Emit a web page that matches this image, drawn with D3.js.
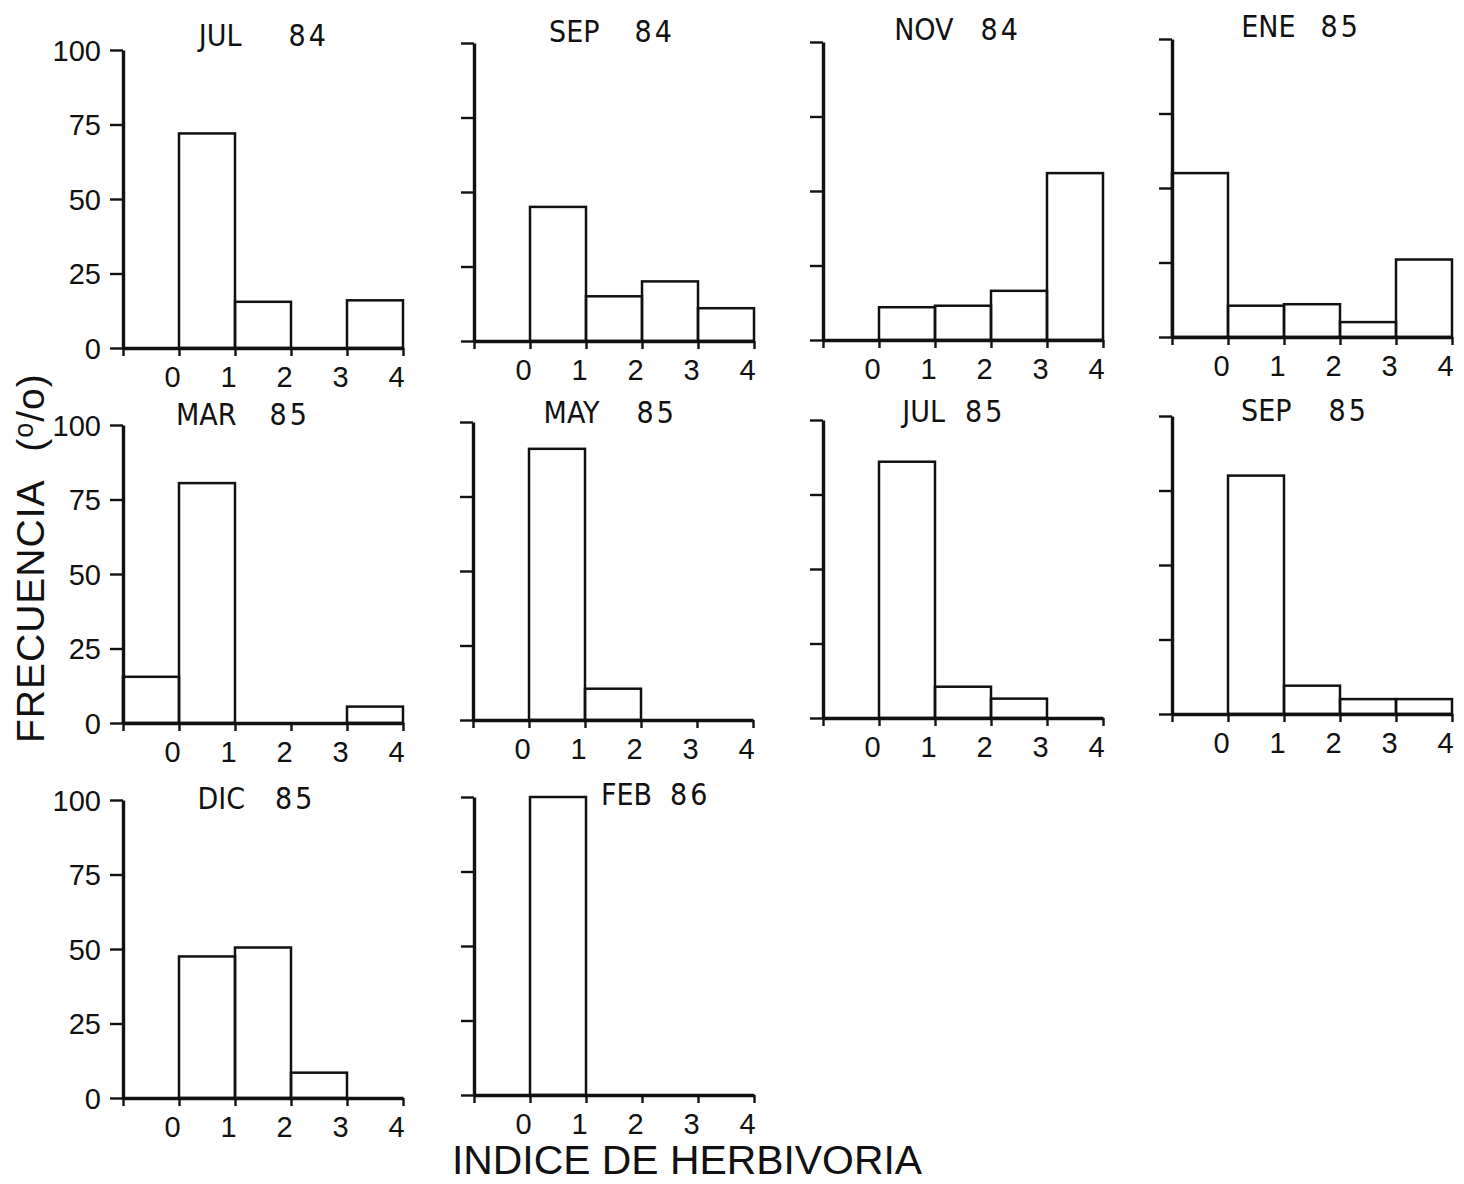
<!DOCTYPE html>
<html>
<head>
<meta charset="utf-8">
<script src="https://cdn.jsdelivr.net/npm/d3@7/dist/d3.min.js"></script>
<style>
  html, body { margin: 0; padding: 0; background: #ffffff; }
  svg { display: block; }
  .tick text { font-family: "Liberation Sans", Arial, sans-serif; fill: #111; }
</style>
</head>
<body>
<script>
// Herbivory index frequency distributions, one histogram per sampling date.
const titles = ["JUL 84", "SEP 84", "NOV 84", "ENE 85", "MAR 85",
                "MAY 85", "JUL 85", "SEP 85", "DIC 85", "FEB 86"];

// Left edge of each class of the herbivory index (class width = 1).
const binStarts = [-1, 0, 1, 2, 3];

// Frequency (%) in each class, per sampling date.
const jul84 = [0, 72, 15.5, 0, 16];
const sep84 = [0, 45, 15, 20, 11];
const nov84 = [0, 11, 11.5, 16.5, 56];
const ene85 = [55, 10.5, 11, 5, 26];
const mar85 = [15.5, 80.5, 0, 0, 5.5];
const may85 = [0, 91, 10.5, 0, 0];
const jul85 = [0, 86, 10.5, 6.5, 0];
const sep85 = [0, 80, 9.5, 5, 5];
const dic85 = [0, 47.5, 50.5, 8.5, 0];
const feb86 = [0, 100, 0, 0, 0];
const series = [jul84, sep84, nov84, ene85, mar85, may85, jul85, sep85, dic85, feb86];

const xTickValues = [-1, 0, 1, 2, 3, 4];
const xTickLabels = ["", "0", "1", "2", "3", "4"];
const yTickValues = [0, 25, 50, 75, 100];
const yTickLabels = ["0", "25", "50", "75", "100"];

const yAxisTitle = "FRECUENCIA";
const xAxisTitle = "INDICE DE HERBIVORIA";

// ---- layout ----
const WIDTH = 1464, HEIGHT = 1184;
const PW = 280, PH = 298;
// top-left corner (left axis x, y of 100 %) of each panel
const panelOrigin = [
  [123, 50], [474, 43], [823, 42], [1172, 39],
  [123, 425], [473, 422], [823, 420], [1172, 416],
  [123, 800], [474, 797]
];
// title centre x, baseline y, gap between month and year
const titlePos = [
  [265, 46, 47], [617, 42, 35], [967, 40, 27], [1308, 37, 25],
  [253, 425, 33], [618, 423, 37], [955, 422, 20], [1310, 421, 37],
  [260, 809, 30], [661, 805, 18]
];

const svg = d3.select("body").append("svg")
  .attr("width", WIDTH).attr("height", HEIGHT)
  .attr("viewBox", `0 0 ${WIDTH} ${HEIGHT}`);

svg.append("rect").attr("width", WIDTH).attr("height", HEIGHT).attr("fill", "#fff");

const x = d3.scaleLinear().domain([-1, 4]).range([0, PW]);
const y = d3.scaleLinear().domain([0, 100]).range([PH, 0]);

series.forEach((vals, i) => {
  const [ox, oy] = panelOrigin[i];
  const col = i % 4;
  const g = svg.append("g").attr("transform", `translate(${ox},${oy})`);

  // bars
  g.selectAll("rect.bar")
    .data(binStarts.map((b, k) => ({ b, v: vals[k] })).filter(d => d.v > 0))
    .join("rect")
    .attr("class", "bar")
    .attr("x", d => x(d.b))
    .attr("width", d => x(d.b + 1) - x(d.b))
    .attr("y", d => y(d.v))
    .attr("height", d => y(0) - y(d.v))
    .attr("fill", "none")
    .attr("stroke", "#111")
    .attr("stroke-width", 2.5);

  // y axis
  const yAxis = d3.axisLeft(y)
    .tickValues(yTickValues)
    .tickSize(13)
    .tickSizeOuter(0)
    .tickPadding(9)
    .tickFormat((d, k) => col === 0 ? yTickLabels[k] : "");
  const ya = g.append("g").call(yAxis);
  ya.select(".domain").attr("stroke", "#111").attr("stroke-width", 3.4);
  ya.selectAll(".tick line").attr("stroke", "#111").attr("stroke-width", 2.4);
  ya.selectAll(".tick text").attr("font-size", 29).attr("dy", "0.36em");

  // x axis
  const xAxis = d3.axisBottom(x)
    .tickValues(xTickValues)
    .tickSize(8)
    .tickSizeOuter(0)
    .tickPadding(10)
    .tickFormat((d, k) => xTickLabels[k]);
  const xa = g.append("g").attr("transform", `translate(0,${PH})`).call(xAxis);
  xa.select(".domain").attr("stroke", "#111").attr("stroke-width", 3.6);
  xa.selectAll(".tick line").attr("stroke", "#111").attr("stroke-width", 2.4);
  xa.selectAll(".tick text").attr("font-size", 29).attr("dx", -7).attr("dy", "0.72em");

  // panel title: month and year separated
  const [tx, ty, gap] = titlePos[i];
  const parts = titles[i].split(" ");
  const tg = svg.append("g")
    .attr("font-family", "'Liberation Sans Narrow', 'DejaVu Sans Condensed', 'Liberation Sans', sans-serif")
    .attr("font-size", 30)
    .attr("fill", "#111");
  tg.append("text").attr("x", tx - gap / 2).attr("y", ty)
    .attr("text-anchor", "end").text(parts[0]);
  tg.append("text").attr("x", tx + gap / 2).attr("y", ty)
    .attr("text-anchor", "start").attr("letter-spacing", 3).text(parts[1]);
});

// y axis title, rotated
const yt = svg.append("text")
  .attr("transform", "translate(44,743) rotate(-90)")
  .attr("font-family", "'Liberation Sans', Arial, sans-serif")
  .attr("font-size", 39)
  .attr("letter-spacing", 1)
  .attr("word-spacing", 18)
  .attr("fill", "#111")
  .attr("text-anchor", "start");
yt.append("tspan").text(yAxisTitle + " (");
yt.append("tspan").attr("font-size", 27).attr("dy", -11).text("o");
yt.append("tspan").attr("dy", 11).text("/o)");

// x axis title
svg.append("text")
  .attr("x", 687).attr("y", 1174)
  .attr("text-anchor", "middle")
  .attr("font-family", "'Liberation Sans', Arial, sans-serif")
  .attr("font-size", 40)
  .attr("textLength", 470)
  .attr("lengthAdjust", "spacingAndGlyphs")
  .attr("fill", "#111")
  .text(xAxisTitle);
</script>
</body>
</html>
